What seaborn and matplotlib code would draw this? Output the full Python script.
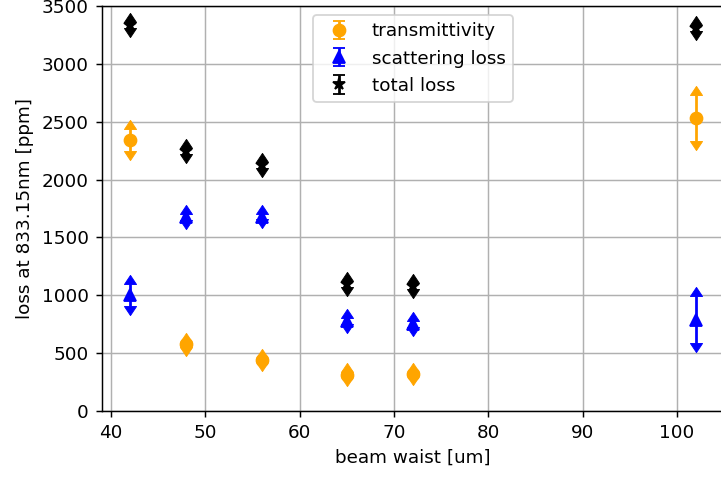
import numpy as np
import pandas as pd
import seaborn as sns
import matplotlib
matplotlib.use("Agg")
import matplotlib.pyplot as plt
from matplotlib.path import Path

# ---- data ----
beam_waist = [42, 48, 56, 65, 72, 102]
transmittivity = [2340, 575, 440, 315, 320, 2530]
transmittivity_err = [95, 20, 20, 20, 20, 200]
scattering = [1000, 1675, 1680, 775, 750, 790]
scattering_err = [95, 25, 25, 25, 25, 205]
total = [3335, 2245, 2125, 1100, 1080, 3310]
total_err = [25, 25, 25, 25, 25, 25]

series_names = ["transmittivity", "scattering loss", "total loss"]
x_ticks = [40, 50, 60, 70, 80, 90, 100]
y_ticks = [0, 500, 1000, 1500, 2000, 2500, 3000, 3500]

df = pd.DataFrame({
    "beam waist [um]": beam_waist * 3,
    "value": transmittivity + scattering + total,
    "err": transmittivity_err + scattering_err + total_err,
    "series": [series_names[0]] * 6 + [series_names[1]] * 6 + [series_names[2]] * 6,
})

sns.set_style("ticks", {"axes.grid": True, "grid.color": "#b0b0b0",
                        "axes.edgecolor": "black", "text.color": "black",
                        "axes.labelcolor": "black", "xtick.color": "black",
                        "ytick.color": "black"})
plt.rcParams["font.family"] = ["DejaVu Sans"]
plt.rcParams["font.size"] = 10
plt.rcParams["grid.linewidth"] = 0.8

dpi = 132
fig = plt.figure(figsize=(721 / dpi, 479 / dpi), dpi=dpi)
ax = fig.add_axes([101.6 / 721, 68 / 479, (724 - 101.6) / 721, (411 - 6) / 479])

styles = {
    "transmittivity": dict(fmt="o", color="orange", ms=6.5),
    "scattering loss": dict(fmt="^", color="blue", ms=6.5),
    "total loss": dict(fmt="*", color="black", ms=7),
}

tri_up = Path([(-1, 0), (0, 1.5), (1, 0), (-1, 0)],
              [Path.MOVETO, Path.LINETO, Path.LINETO, Path.CLOSEPOLY])
tri_down = Path([(-1, 0), (0, -1.5), (1, 0), (-1, 0)],
                [Path.MOVETO, Path.LINETO, Path.LINETO, Path.CLOSEPOLY])

containers = []
for name in series_names:
    sub = df[df["series"] == name]
    st = styles[name]
    cont = ax.errorbar(sub["beam waist [um]"], sub["value"], yerr=sub["err"],
                       fmt=st["fmt"], color=st["color"], ms=st["ms"],
                       capsize=3.3, label=name)
    containers.append((cont, st["color"]))

ax.set_xlim(39, 105)
ax.set_ylim(0, 3500)
ax.set_xticks(x_ticks)
ax.set_yticks(y_ticks)
ax.set_xlabel("beam waist [um]")
ax.set_ylabel("loss at 833.15nm [ppm]")
ax.grid(True, color="#b0b0b0", linewidth=0.8)
for s in ax.spines.values():
    s.set_color("black")
    s.set_linewidth(0.8)
ax.tick_params(direction="out", length=3.5, width=0.8)
ax.legend(loc="upper center", frameon=True)

# after the legend (which keeps plain caps), turn the plot caps into arrow heads
for cont, color in containers:
    low_cap, high_cap = cont[1][0], cont[1][1]
    low_cap.set_marker(tri_down)
    high_cap.set_marker(tri_up)
    for cap in (low_cap, high_cap):
        cap.set_markersize(9.9)
        cap.set_markerfacecolor(color)
        cap.set_markeredgecolor(color)
        cap.set_markeredgewidth(0.5)

fig.savefig("out.png", dpi=dpi)
